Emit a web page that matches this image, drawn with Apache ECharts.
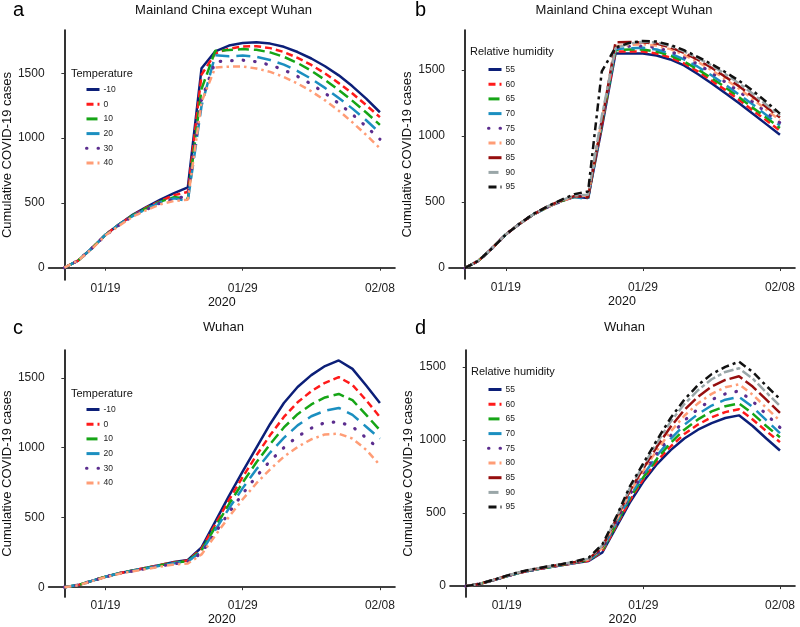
<!DOCTYPE html>
<html><head><meta charset="utf-8">
<script src="https://cdn.jsdelivr.net/npm/echarts@6/dist/echarts.min.js"></script>
<style>html,body{margin:0;padding:0;background:#fff}#c{width:800px;height:627px}</style>
</head><body><div id="c"></div><script>
// ---- data ----
const dates = ['01/16','01/17','01/18','01/19','01/20','01/21','01/22','01/23','01/24','01/25','01/26','01/27','01/28','01/29','01/30','01/31','02/01','02/02','02/03','02/04','02/05','02/06','02/07','02/08'];
const xTickIdx = [3, 13, 23];
const yTicks = [0, 500, 1000, 1500];
const tempLevels = ['-10','0','10','20','30','40'];
const humLevels = ['55','60','65','70','75','80','85','90','95'];
const panelTitles = ['Mainland China except Wuhan','Mainland China except Wuhan','Wuhan','Wuhan'];
const panelLetters = ['a','b','c','d'];
const legendTitles = ['Temperature','Relative humidity','Temperature','Relative humidity'];

// a: Mainland China except Wuhan, by temperature
const aT_m10 = [0,55,150,255,335,410,470,525,575,620,1540,1670,1715,1735,1740,1730,1705,1665,1615,1555,1485,1400,1305,1200];
const aT_0   = [0,55,150,255,335,405,465,515,560,585,1490,1655,1690,1708,1710,1695,1665,1620,1565,1500,1425,1345,1255,1162];
const aT_10  = [0,55,150,255,335,405,460,510,545,530,1380,1675,1680,1688,1682,1662,1628,1580,1520,1450,1372,1288,1198,1102];
const aT_20  = [0,55,150,255,335,400,455,505,535,515,1250,1640,1632,1638,1628,1603,1568,1518,1458,1388,1310,1228,1138,1040];
const aT_30  = [0,55,150,250,330,400,450,500,530,555,1300,1590,1598,1602,1590,1565,1527,1477,1417,1347,1268,1183,1090,992];
const aT_40  = [0,55,145,250,325,395,445,490,515,525,1280,1545,1552,1553,1538,1512,1472,1422,1362,1292,1212,1122,1025,922];

// b: Mainland China except Wuhan, by relative humidity
const bH_55 = [0,55,150,255,335,405,460,505,540,530,1060,1625,1625,1625,1610,1580,1535,1470,1400,1325,1250,1170,1090,1010];
const bH_60 = [0,55,150,255,335,405,460,505,540,540,1080,1640,1640,1640,1625,1595,1550,1490,1420,1350,1275,1195,1120,1040];
const bH_65 = [0,55,150,255,335,405,460,505,540,535,1090,1650,1655,1655,1640,1610,1565,1505,1440,1370,1295,1215,1140,1060];
const bH_70 = [0,55,150,255,335,405,460,505,540,520,1100,1660,1665,1668,1655,1625,1580,1525,1460,1390,1315,1240,1160,1080];
const bH_75 = [0,55,150,255,335,405,460,505,540,545,1110,1670,1680,1682,1670,1642,1598,1545,1480,1410,1338,1260,1180,1100];
const bH_80 = [0,55,150,255,335,405,460,505,540,550,1120,1680,1690,1695,1685,1658,1615,1562,1500,1432,1360,1282,1200,1120];
const bH_85 = [0,55,150,255,335,405,465,510,545,535,1100,1710,1712,1710,1700,1672,1630,1578,1517,1450,1378,1300,1220,1140];
const bH_90 = [0,55,150,255,335,405,465,510,550,555,1150,1665,1700,1715,1708,1682,1642,1592,1535,1470,1400,1322,1238,1155];
const bH_95 = [0,55,150,255,335,410,465,515,560,580,1490,1670,1705,1720,1715,1690,1650,1600,1545,1485,1420,1345,1260,1170];

// c: Wuhan, by temperature
const cT_m10 = [0,15,45,75,100,120,140,160,180,195,285,470,655,830,1000,1170,1320,1435,1520,1585,1625,1565,1445,1320];
const cT_0   = [0,15,45,75,100,120,140,160,178,192,275,450,625,790,945,1090,1220,1325,1405,1465,1505,1450,1340,1220];
const cT_10  = [0,15,45,75,100,120,138,157,175,188,265,430,595,750,895,1025,1145,1240,1310,1360,1385,1340,1235,1125];
const cT_20  = [0,15,45,75,100,118,136,155,172,185,255,410,565,710,845,965,1070,1160,1225,1265,1285,1235,1150,1065];
const cT_30  = [0,15,44,74,98,116,134,152,168,180,245,390,535,670,795,905,1000,1080,1140,1180,1185,1150,1070,985];
const cT_40  = [0,14,43,72,96,114,131,148,163,170,235,370,505,630,745,845,935,1005,1060,1095,1100,1065,985,875];

// d: Wuhan, by relative humidity
const dH_55 = [0,15,40,68,93,112,128,143,158,172,230,400,570,715,835,930,1010,1070,1115,1150,1168,1095,1010,928];
const dH_60 = [0,15,40,68,93,112,128,143,158,175,237,410,585,732,855,955,1040,1105,1155,1190,1210,1140,1060,985];
const dH_65 = [0,15,40,68,93,112,128,144,160,178,243,420,600,745,872,980,1070,1140,1195,1230,1250,1180,1095,1018];
const dH_70 = [0,15,40,68,93,112,129,145,161,178,250,428,612,760,893,1007,1103,1177,1235,1275,1295,1225,1135,1047];
const dH_75 = [0,15,40,68,94,113,130,146,162,180,255,437,625,775,910,1030,1132,1212,1275,1315,1335,1265,1175,1085];
const dH_80 = [0,15,41,69,94,114,131,147,164,182,262,445,638,790,930,1057,1165,1250,1315,1360,1380,1310,1220,1130];
const dH_85 = [0,15,41,70,95,115,132,148,165,185,270,455,652,805,955,1090,1205,1295,1365,1410,1435,1365,1275,1185];
const dH_90 = [0,15,42,71,97,117,134,150,167,188,278,462,667,825,980,1125,1245,1340,1415,1465,1490,1420,1325,1232];
const dH_95 = [0,15,42,72,98,118,135,150,168,195,285,470,680,840,1000,1150,1275,1375,1450,1500,1535,1465,1370,1280];

const panelSeries = [
  [aT_m10, aT_0, aT_10, aT_20, aT_30, aT_40],
  [bH_55, bH_60, bH_65, bH_70, bH_75, bH_80, bH_85, bH_90, bH_95],
  [cT_m10, cT_0, cT_10, cT_20, cT_30, cT_40],
  [dH_55, dH_60, dH_65, dH_70, dH_75, dH_80, dH_85, dH_90, dH_95]
];
const panelLevels = [tempLevels, humLevels, tempLevels, humLevels];

// ---- styles ----
const lineStyles = [
  {color:'#0c1f78', type:'solid'},
  {color:'#ff1a1a', type:[7,4]},
  {color:'#16a516', type:[11,5]},
  {color:'#1b8fc0', type:[14,7]},
  {color:'#5b2d8e', type:[0.5,11], cap:'round', width:3.2},
  {color:'#ff9d76', type:[7,4,2.5,4]},
  {color:'#960f0f', type:[14,4]},
  {color:'#9aa6a8', type:[10,3,4,3]},
  {color:'#111111', type:[8,4,3,4]}
];
const grids = [
  {left:48, top:30, width:347, height:250},
  {left:449, top:30, width:346, height:249},
  {left:48, top:350, width:347, height:248},
  {left:450, top:350, width:345, height:249}
];
const yRanges = [[-95,1835],[-83,1803],[-71,1700],[-75,1615]];
const legendPos = [{left:85, top:85},{left:487, top:65},{left:85, top:405},{left:487, top:385}];
const legendTitlePos = [{left:71, top:68},{left:470, top:46},{left:71, top:388},{left:471, top:366}];
const titleTop = [4, 4, 321, 321];
const letterPos = [{left:13, top:0},{left:415, top:0},{left:13, top:318},{left:415, top:318}];
const FONT = 'Liberation Sans, Arial, sans-serif';

const option = {
  animation: false,
  backgroundColor: '#fff',
  textStyle: {fontFamily: FONT},
  grid: grids,
  title: [],
  legend: [],
  xAxis: [],
  yAxis: [],
  series: []
};

for (let p = 0; p < 4; p++) {
  const g = grids[p];
  option.title.push({text: panelTitles[p], left: g.left + g.width/2 + 2, top: titleTop[p], textAlign: 'center', padding: 0,
    textStyle: {fontSize: 13, fontWeight: 'normal', color: '#111', fontFamily: FONT}});
  option.title.push({text: panelLetters[p], left: letterPos[p].left, top: letterPos[p].top, padding: 0,
    textStyle: {fontSize: 20, fontWeight: 'normal', color: '#000', fontFamily: FONT}});
  option.title.push({text: legendTitles[p], left: legendTitlePos[p].left, top: legendTitlePos[p].top, padding: 0,
    textStyle: {fontSize: 11, fontWeight: 'normal', color: '#111', fontFamily: FONT}});

  option.xAxis.push({
    type: 'value', gridIndex: p, min: -1.15, max: 24.1,
    name: '2020', nameLocation: 'middle', nameGap: 14,
    nameTextStyle: {fontSize: 12.5, color: '#111', fontFamily: FONT},
    axisLine: {show: true, lineStyle: {color: '#000', width: 1.6}},
    axisTick: {show: true, length: 3, customValues: xTickIdx, lineStyle: {color: '#333'}},
    axisLabel: {customValues: xTickIdx, margin: 3, fontSize: 12, color: '#222', fontFamily: FONT,
      formatter: v => dates[Math.round(v)]},
    splitLine: {show: false}
  });
  option.yAxis.push({
    type: 'value', gridIndex: p, min: yRanges[p][0], max: yRanges[p][1],
    name: 'Cumulative COVID-19 cases', nameLocation: 'middle', nameGap: 30,
    nameTextStyle: {fontSize: 13, color: '#111', fontFamily: FONT},
    axisLine: {show: true, lineStyle: {color: '#000', width: 1.6}},
    axisTick: {show: true, length: 3, customValues: yTicks, lineStyle: {color: '#333'}},
    axisLabel: {customValues: yTicks, margin: 4, fontSize: 12, color: '#222', fontFamily: FONT,
      formatter: v => String(Math.round(v))},
    splitLine: {show: false}
  });

  const names = [];
  const levels = panelLevels[p];
  panelSeries[p].forEach((vals, i) => {
    const st = lineStyles[i];
    const nm = panelLetters[p] + '|' + levels[i];
    names.push(nm);
    option.series.push({
      type: 'line', name: nm, xAxisIndex: p, yAxisIndex: p,
      data: vals.map((v, k) => [k, v]),
      symbol: 'none', smooth: false,
      lineStyle: {color: st.color, width: st.width || 2.5, type: st.type, cap: st.cap || 'butt'},
      itemStyle: {color: st.color},
      z: 2 + i
    });
  });
  option.legend.push({
    data: names, orient: 'vertical', left: legendPos[p].left, top: legendPos[p].top, padding: 0,
    itemWidth: 13, itemHeight: 8, itemGap: 5.7, selectedMode: false,
    itemStyle: {opacity: 0},
    lineStyle: {width: 3},
    textStyle: {fontSize: 8.5, color: '#222', fontFamily: FONT, padding: [0,0,0,-1]},
    formatter: n => n.split('|')[1]
  });
}

const chart = echarts.init(document.getElementById('c'), null, {renderer: 'canvas'});
chart.setOption(option);
</script></body></html>
